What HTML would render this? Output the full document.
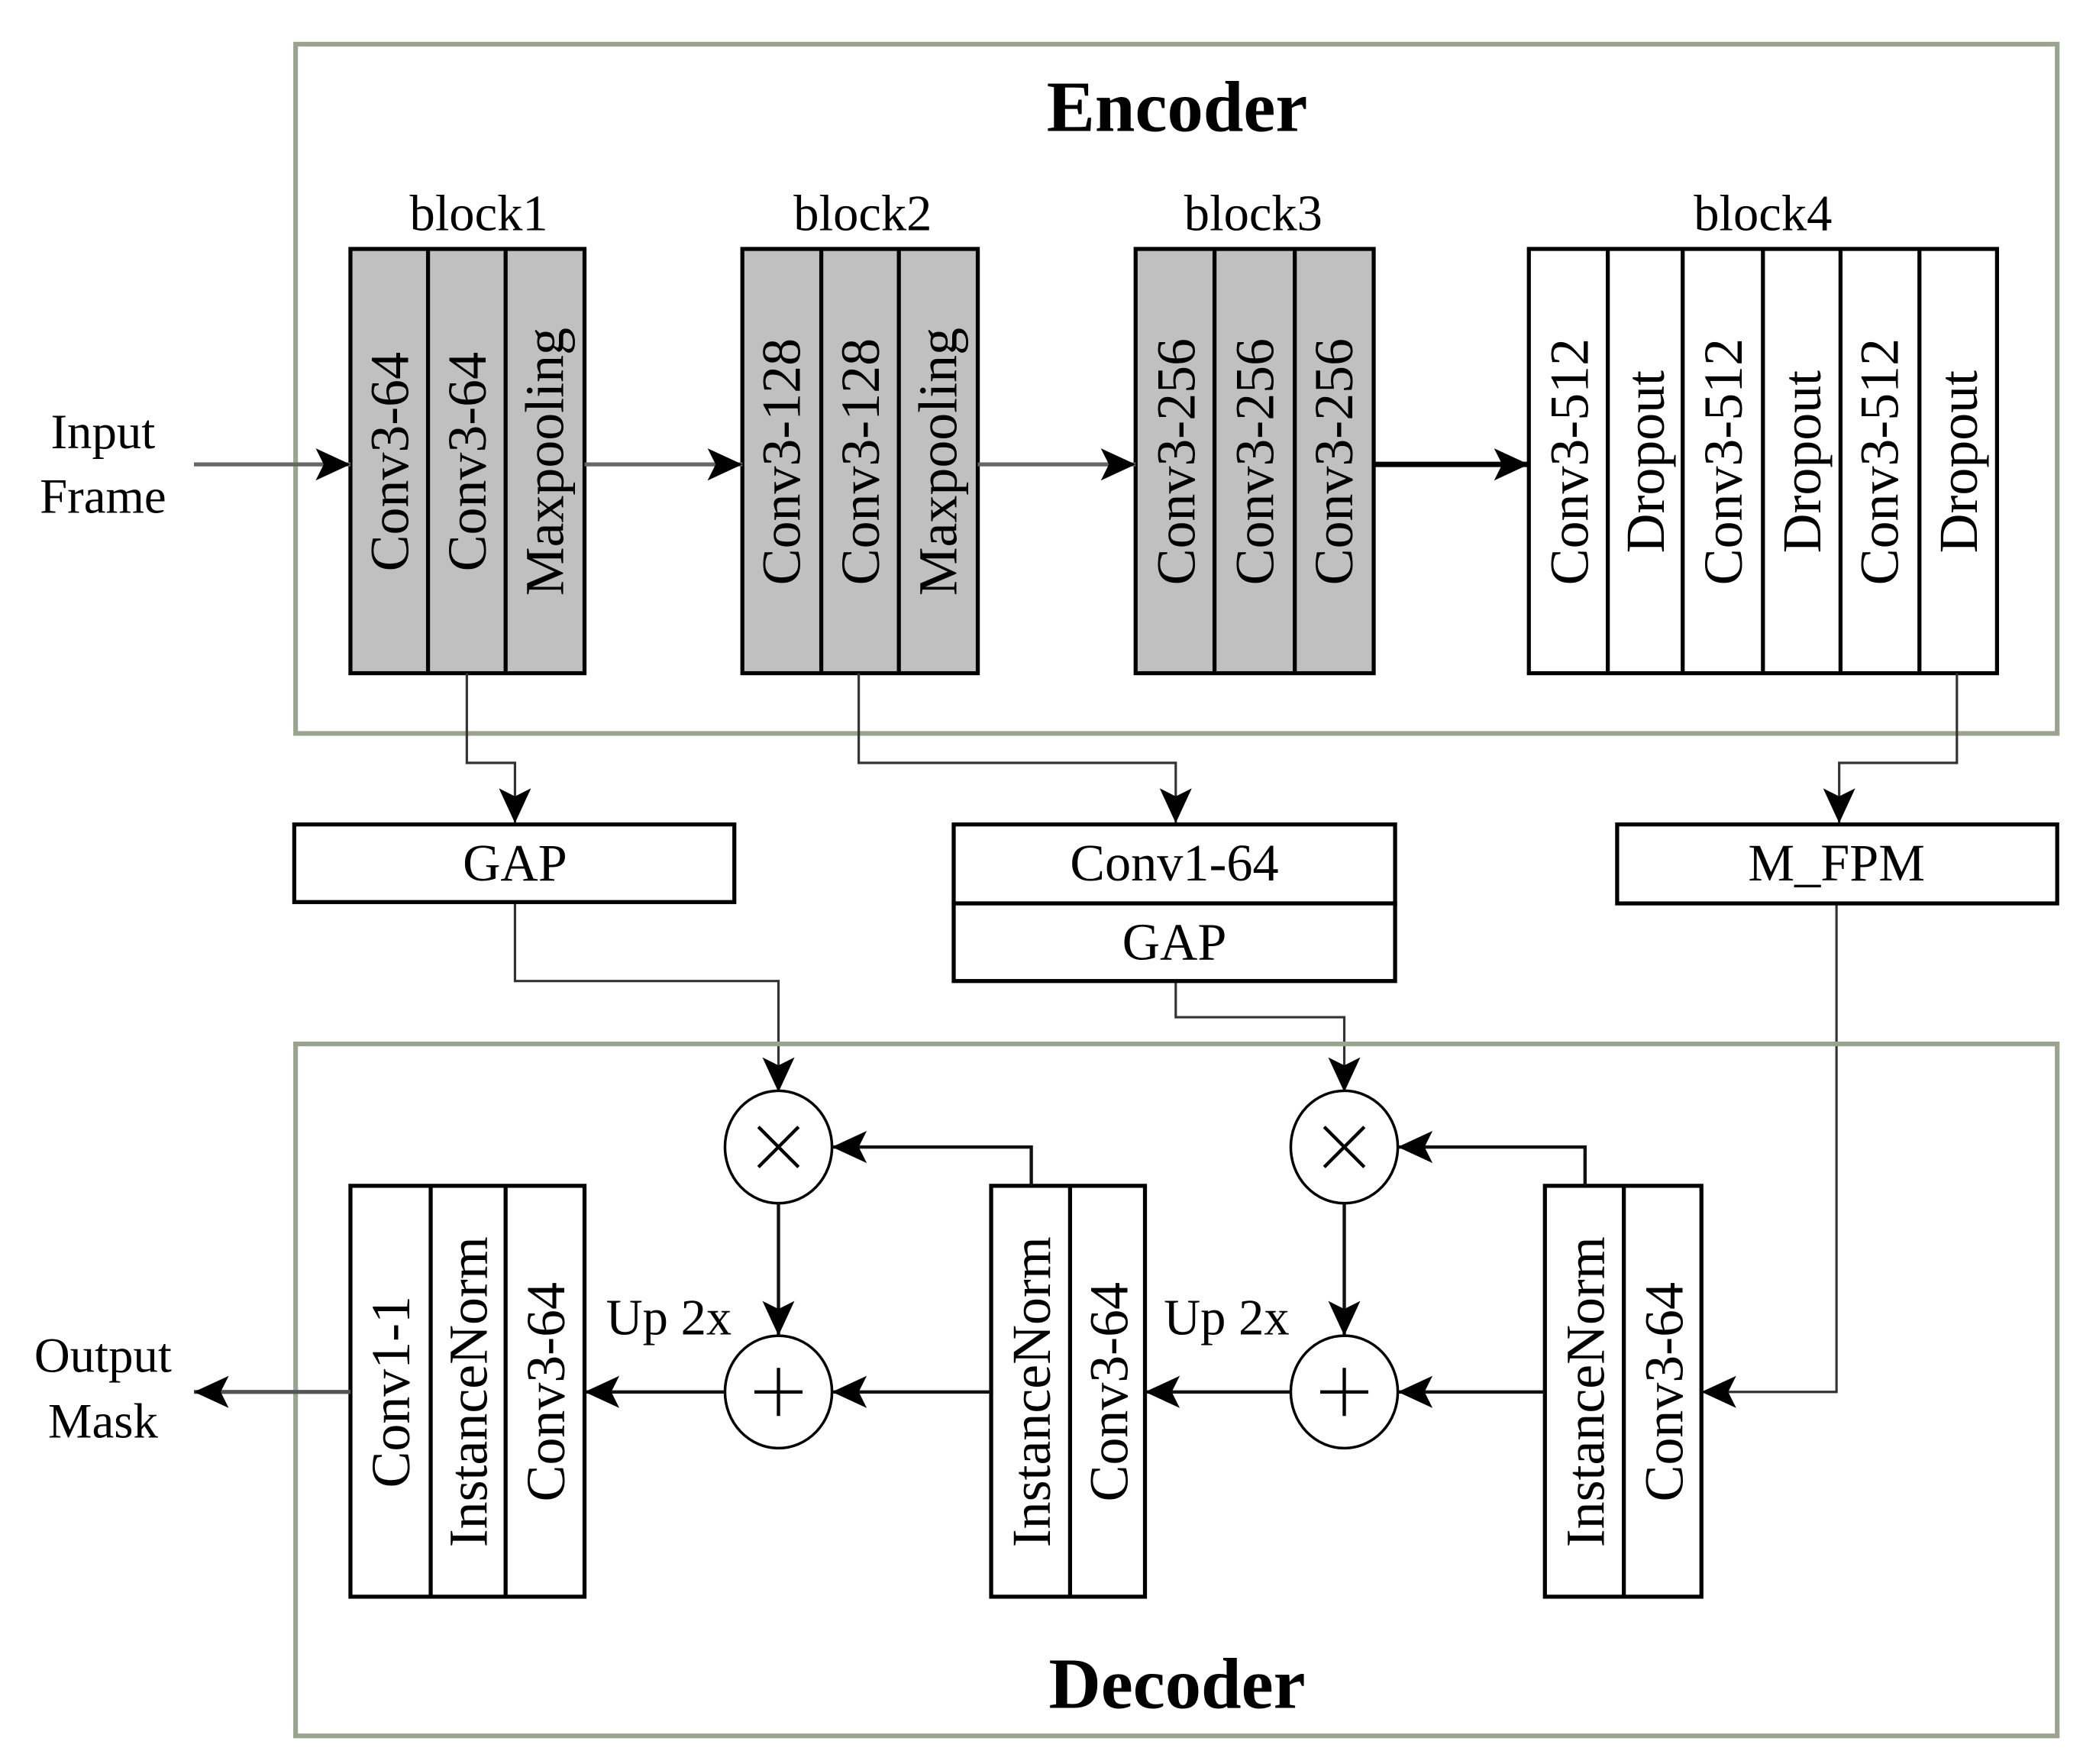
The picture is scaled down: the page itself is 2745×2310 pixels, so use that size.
<!DOCTYPE html>
<html><head><meta charset="utf-8"><style>
html,body{margin:0;padding:0;background:#fff;}
svg{display:block;}
text{font-family:"Liberation Serif",serif;fill:#000;}
</style></head><body>
<svg width="2745" height="2310" viewBox="0 0 1567 1318" preserveAspectRatio="none" xmlns="http://www.w3.org/2000/svg">
<defs>
<marker id="a" markerUnits="userSpaceOnUse" markerWidth="28" markerHeight="28" refX="26" refY="12" orient="auto"><path d="M0,0 L26,12 L0,24 L6,12 Z" fill="#000"/></marker>
</defs>
<rect width="1567" height="1318" fill="#fff"/>
<rect x="221" y="33" width="1317" height="515" fill="none" stroke="#99a38f" stroke-width="3.5"/>
<text x="880" y="98" font-size="54" font-weight="bold" text-anchor="middle">Encoder</text>
<g font-size="38" text-anchor="middle">
<text x="358" y="172">block1</text><text x="645" y="172">block2</text><text x="937" y="172">block3</text><text x="1318" y="172">block4</text>
</g>
<g stroke="#000" stroke-width="3">
<rect x="262" y="186" width="175" height="317" fill="#c0c0c0"/>
<line x1="320" y1="186" x2="320" y2="503"/><line x1="378" y1="186" x2="378" y2="503"/>
<rect x="555" y="186" width="176" height="317" fill="#c0c0c0"/>
<line x1="614" y1="186" x2="614" y2="503"/><line x1="672" y1="186" x2="672" y2="503"/>
<rect x="849" y="186" width="178" height="317" fill="#c0c0c0"/>
<line x1="908" y1="186" x2="908" y2="503"/><line x1="968" y1="186" x2="968" y2="503"/>
<rect x="1143" y="186" width="350" height="317" fill="#fff"/>
<line x1="1202" y1="186" x2="1202" y2="503"/><line x1="1258" y1="186" x2="1258" y2="503"/><line x1="1318" y1="186" x2="1318" y2="503"/><line x1="1376" y1="186" x2="1376" y2="503"/><line x1="1435" y1="186" x2="1435" y2="503"/>
</g>
<g font-size="41" text-anchor="middle">
<text transform="translate(305,345) rotate(-90)">Conv3-64</text>
<text transform="translate(363,345) rotate(-90)">Conv3-64</text>
<text transform="translate(421,345) rotate(-90)">Maxpooling</text>
<text transform="translate(598,345) rotate(-90)">Conv3-128</text>
<text transform="translate(657,345) rotate(-90)">Conv3-128</text>
<text transform="translate(715,345) rotate(-90)">Maxpooling</text>
<text transform="translate(893,345) rotate(-90)">Conv3-256</text>
<text transform="translate(952,345) rotate(-90)">Conv3-256</text>
<text transform="translate(1011,345) rotate(-90)">Conv3-256</text>
<text transform="translate(1187,345) rotate(-90)">Conv3-512</text>
<text transform="translate(1244,345) rotate(-90)">Dropout</text>
<text transform="translate(1302,345) rotate(-90)">Conv3-512</text>
<text transform="translate(1361,345) rotate(-90)">Dropout</text>
<text transform="translate(1419,345) rotate(-90)">Conv3-512</text>
<text transform="translate(1478,345) rotate(-90)">Dropout</text>
</g>
<g font-size="37" text-anchor="middle">
<text x="77" y="335">Input</text><text x="77" y="383">Frame</text>
<text x="77" y="1025">Output</text><text x="77" y="1074">Mask</text>
</g>
<g fill="none">
<line x1="145" y1="347" x2="262" y2="347" stroke="#666" stroke-width="3" marker-end="url(#a)"/>
<line x1="437" y1="347" x2="555" y2="347" stroke="#666" stroke-width="3" marker-end="url(#a)"/>
<line x1="731" y1="347" x2="849" y2="347" stroke="#666" stroke-width="3" marker-end="url(#a)"/>
<line x1="1027" y1="347" x2="1143" y2="347" stroke="#000" stroke-width="4" marker-end="url(#a)"/>
<g stroke="#333" stroke-width="1.8">
<polyline points="349,503 349,570 385,570 385,615" marker-end="url(#a)"/>
<polyline points="642,503 642,570 879,570 879,615" marker-end="url(#a)"/>
<polyline points="1463,503 1463,570 1375,570 1375,615" marker-end="url(#a)"/>
<polyline points="385,674 385,733 582,733 582,816" marker-end="url(#a)"/>
<polyline points="879,733 879,760 1005,760 1005,816" marker-end="url(#a)"/>
<polyline points="1373,675 1373,1040 1272,1040" marker-end="url(#a)"/>
</g>
</g>
<g stroke="#000" stroke-width="3" fill="#fff">
<rect x="220" y="616" width="329" height="58"/>
<rect x="713" y="616" width="330" height="59"/>
<rect x="713" y="675" width="330" height="58"/>
<rect x="1209" y="616" width="329" height="59"/>
</g>
<g font-size="39" text-anchor="middle">
<text x="385" y="658">GAP</text><text x="878" y="658">Conv1-64</text><text x="878" y="717">GAP</text><text x="1373" y="658">M_FPM</text>
</g>
<rect x="221" y="780" width="1317" height="517" fill="none" stroke="#99a38f" stroke-width="3.5"/>
<text x="880" y="1276" font-size="54" font-weight="bold" text-anchor="middle">Decoder</text>
<g stroke="#000" stroke-width="3" fill="#fff">
<rect x="262" y="886" width="175" height="307"/>
<line x1="322" y1="886" x2="322" y2="1193"/><line x1="378" y1="886" x2="378" y2="1193"/>
<rect x="741" y="886" width="115" height="307"/>
<line x1="800" y1="886" x2="800" y2="1193"/>
<rect x="1155" y="886" width="117" height="307"/>
<line x1="1214" y1="886" x2="1214" y2="1193"/>
</g>
<g font-size="41" text-anchor="middle">
<text transform="translate(306,1040) rotate(-90)">Conv1-1</text>
<text transform="translate(364,1040) rotate(-90)">InstanceNorm</text>
<text transform="translate(422,1040) rotate(-90)">Conv3-64</text>
<text transform="translate(785,1040) rotate(-90)">InstanceNorm</text>
<text transform="translate(843,1040) rotate(-90)">Conv3-64</text>
<text transform="translate(1199,1040) rotate(-90)">InstanceNorm</text>
<text transform="translate(1258,1040) rotate(-90)">Conv3-64</text>
</g>
<g font-size="38" text-anchor="middle"><text x="500" y="997">Up 2x</text><text x="917" y="997">Up 2x</text></g>
<g stroke="#000" stroke-width="2" fill="#fff">
<ellipse cx="582" cy="857" rx="40" ry="42"/><ellipse cx="582" cy="1040" rx="40" ry="42"/>
<ellipse cx="1005" cy="857" rx="40" ry="42"/><ellipse cx="1005" cy="1040" rx="40" ry="42"/>
</g>
<g stroke="#000" stroke-width="2.5">
<line x1="567" y1="842" x2="597" y2="872"/><line x1="597" y1="842" x2="567" y2="872"/>
<line x1="990" y1="842" x2="1020" y2="872"/><line x1="1020" y1="842" x2="990" y2="872"/>
<line x1="564" y1="1040" x2="600" y2="1040"/><line x1="582" y1="1022" x2="582" y2="1058"/>
<line x1="987" y1="1040" x2="1023" y2="1040"/><line x1="1005" y1="1022" x2="1005" y2="1058"/>
</g>
<g fill="none" stroke="#111" stroke-width="2.5">
<line x1="582" y1="899" x2="582" y2="998" marker-end="url(#a)"/>
<line x1="1005" y1="899" x2="1005" y2="998" marker-end="url(#a)"/>
<polyline points="771,886 771,857 622,857" marker-end="url(#a)"/>
<polyline points="1185,886 1185,857 1045,857" marker-end="url(#a)"/>
<line x1="1155" y1="1040" x2="1045" y2="1040" marker-end="url(#a)"/>
<line x1="965" y1="1040" x2="856" y2="1040" marker-end="url(#a)"/>
<line x1="741" y1="1040" x2="622" y2="1040" marker-end="url(#a)"/>
<line x1="542" y1="1040" x2="437" y2="1040" marker-end="url(#a)"/>
<line x1="262" y1="1040" x2="145" y2="1040" stroke="#555" stroke-width="3" marker-end="url(#a)"/>
</g>
</svg>
</body></html>
